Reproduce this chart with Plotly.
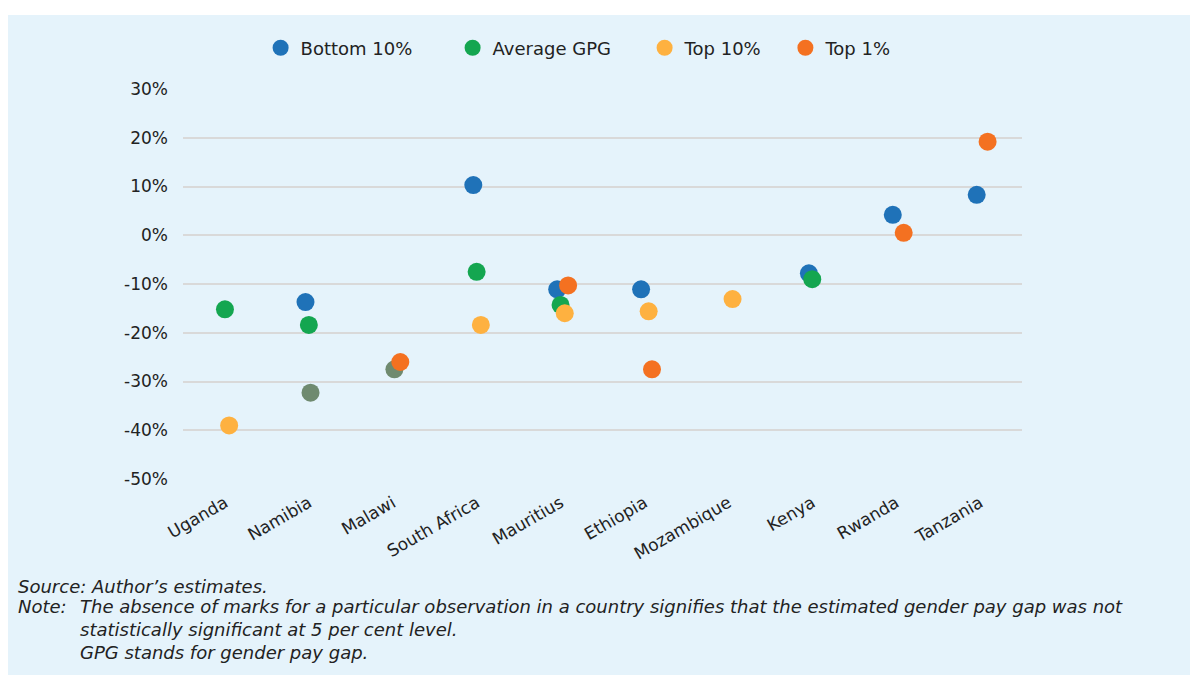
"""Gender pay gap at different points of the wage distribution, by country."""
import plotly.graph_objects as go

countries = ["Uganda", "Namibia", "Malawi", "South Africa", "Mauritius",
             "Ethiopia", "Mozambique", "Kenya", "Rwanda", "Tanzania"]

bottom_10 = [None, -13.7, None, 10.3, -11.1, -11.1, None, -7.8, 4.2, 8.3]
average_gpg = [-15.2, -18.4, None, -7.5, -14.3, None, None, -9.0, None, None]
top_10 = [-39.0, None, None, -18.4, -16.0, -15.6, -13.1, None, None, None]
top_1 = [None, None, -26.0, None, -10.3, -27.5, None, None, 0.5, 19.2]
# unlabelled grey marks in the original
other = [None, -32.3, -27.5, None, None, None, None, None, None, None]

y_ticks = [30, 20, 10, 0, -10, -20, -30, -40, -50]
y_tick_labels = ["30%", "20%", "10%", "0%", "-10%", "-20%", "-30%", "-40%", "-50%"]

series = [
    ("Bottom 10%", bottom_10, "#1f72b8", -0.04, "legend"),
    ("Average GPG", average_gpg, "#14a650", 0.0, "legend"),
    ("Top 10%", top_10, "#feb140", 0.05, "legend"),
    ("Top 1%", top_1, "#f47121", 0.09, "legend2"),
    ("Other", other, "#6f8a6f", 0.02, None),
]

font = "DejaVu Sans"
bg = "#e5f3fb"
text_color = "#222222"

fig = go.Figure()
# grey first so the coloured marks sit on top
for name, values, color, offset, legend in [series[4]] + series[:4]:
    fig.add_trace(go.Scatter(
        x=[i + offset for i in range(len(countries))],
        y=values,
        mode="markers",
        name=name,
        showlegend=legend is not None,
        legend=legend or "legend",
        marker={"size": 18, "color": color},
    ))

legend_style = {
    "orientation": "h",
    "y": 1.105,
    "yanchor": "middle",
    "xanchor": "left",
    "traceorder": "normal",
    "font": {"size": 18},
    "bgcolor": "rgba(0,0,0,0)",
}

# page body has an 8px margin, so the figure is laid out 8px smaller
fig.update_layout(
    width=1190,
    height=667,
    margin={"l": 175, "r": 176, "t": 81, "b": 195.5},
    paper_bgcolor="white",
    plot_bgcolor="rgba(0,0,0,0)",
    font={"family": font, "size": 17, "color": text_color},
    legend={**legend_style, "x": 0.0925, "entrywidth": 147},
    legend2={**legend_style, "x": 0.718},
    xaxis={
        "range": [-0.5, 9.5],
        "tickvals": list(range(len(countries))),
        "ticktext": countries,
        "tickangle": -30,
        "showgrid": False,
        "zeroline": False,
        "showline": False,
        "ticklabelstandoff": 10,
    },
    yaxis={
        "range": [-50, 30],
        "tickvals": y_ticks,
        "ticktext": y_tick_labels,
        "gridcolor": "#d9d9d9",
        "gridwidth": 2,
        "zeroline": False,
        "showline": False,
        "ticklabelstandoff": 14,
    },
    shapes=[{
        "type": "rect", "xref": "paper", "yref": "paper",
        "x0": -0.2086, "x1": 1.26, "y0": -0.56, "y1": 1.1895,
        "fillcolor": bg, "line": {"width": 0}, "layer": "below",
    }],
)

notes = [
    (-0.199, -0.2753, "<i>Source: Author’s estimates.</i>"),
    (-0.199, -0.3265, "<i>Note:</i>"),
    (-0.1251, -0.3265, "<i>The absence of marks for a particular observation in a country "
                       "signifies that the estimated gender pay gap was not</i>"),
    (-0.1251, -0.3854, "<i>statistically significant at 5 per cent level.</i>"),
    (-0.1251, -0.4443, "<i>GPG stands for gender pay gap.</i>"),
]
for x, y, text in notes:
    fig.add_annotation(x=x, y=y, xref="paper", yref="paper", text=text,
                       showarrow=False, xanchor="left", yanchor="middle",
                       font={"size": 18, "color": text_color})

fig.write_html("out.html")
